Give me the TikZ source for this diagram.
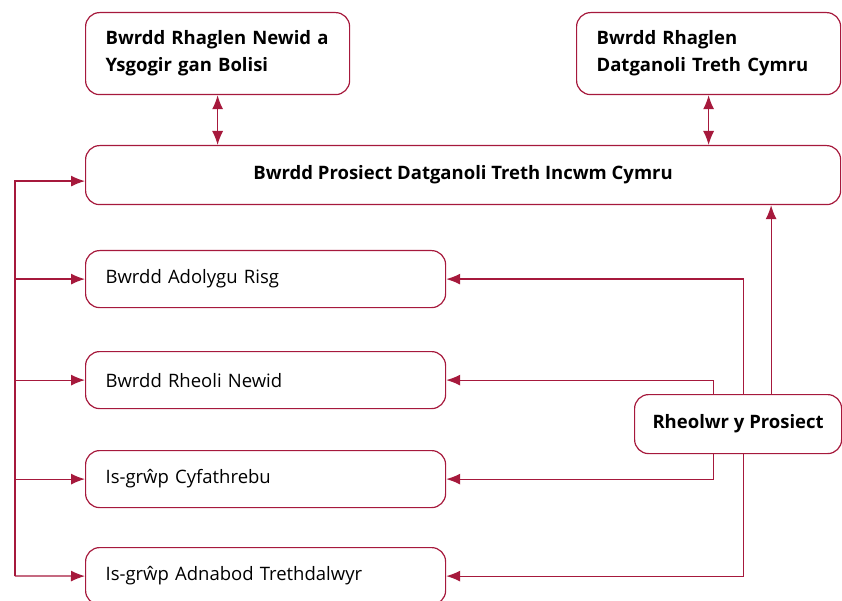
\documentclass[tikz,border=0pt]{standalone}
\usepackage{fontspec}
\setmainfont{Open Sans}
\usetikzlibrary{positioning,arrows.meta}
\definecolor{crimson}{RGB}{166,25,60}

\begin{document}
\begin{tikzpicture}[x=1pt, y=-1pt, line width=1.2pt,
  main/.style = {draw=crimson, rounded corners=14pt, anchor=north west, inner xsep=20pt},
  upper/.style = {main, align=left, text width=224pt, minimum height=82pt, font=\fontsize{18.5}{27}\selectfont\bfseries},
  lower/.style = {main, align=left, text width=320pt, minimum height=57pt, font=\fontsize{18.5}{24}\selectfont},
  link/.style = {draw=crimson, -{Latex[length=14pt,width=11pt]}},
  both/.style = {draw=crimson, {Latex[length=14pt,width=11pt]}-{Latex[length=14pt,width=11pt]}}]
\clip (0,0) rectangle (842,601);
\node[upper] (1) at (85,12) {Bwrdd Rhaglen Newid a\\Ysgogir gan Bolisi};
\node[upper] (2) at (576,12) {Bwrdd Rhaglen\\Datganoli Treth Cymru};
\node[main, minimum width=755pt, minimum height=59pt, font=\fontsize{18.5}{24}\selectfont\bfseries] (3) at (85,145) {Bwrdd Prosiect Datganoli Treth Incwm Cymru};
\node[lower] (4) at (85,250) {Bwrdd Adolygu Risg};
\node[lower] (5) at (85,351) {Bwrdd Rheoli Newid};
\node[lower] (6) at (85,450) {Is-grŵp Cyfathrebu};
\node[lower] (7) at (85,547) {Is-grŵp Adnabod Trethdalwyr};
\node[main, minimum width=207pt, minimum height=59pt, inner xsep=10pt, font=\fontsize{18.5}{24}\selectfont\bfseries] (8) at (634,394) {Rheolwr y Prosiect};
\coordinate (bus) at (15,576);
\draw[both] (1.south) -- (1.south |- 3.north);
\draw[both] (2.south) -- (2.south |- 3.north);
\draw[link] (bus) |- ([yshift=-6pt]3.west);
\draw[link] (bus |- 4.west) -- (4.west);
\draw[link] (bus |- 5.west) -- (5.west);
\draw[link] (bus |- 6.west) -- (6.west);
\draw[link] (bus) -- (7.west);
\draw[link] ([xshift=33pt]8.north) -- ([xshift=33pt]8.north |- 3.south);
\draw[link] ([xshift=5pt]8.north) |- (4.east);
\draw[link] ([xshift=-25pt]8.north) |- (5.east);
\draw[link] ([xshift=-25pt]8.south) |- (6.east);
\draw[link] ([xshift=5pt]8.south) |- (7.east);
\end{tikzpicture}
\end{document}
